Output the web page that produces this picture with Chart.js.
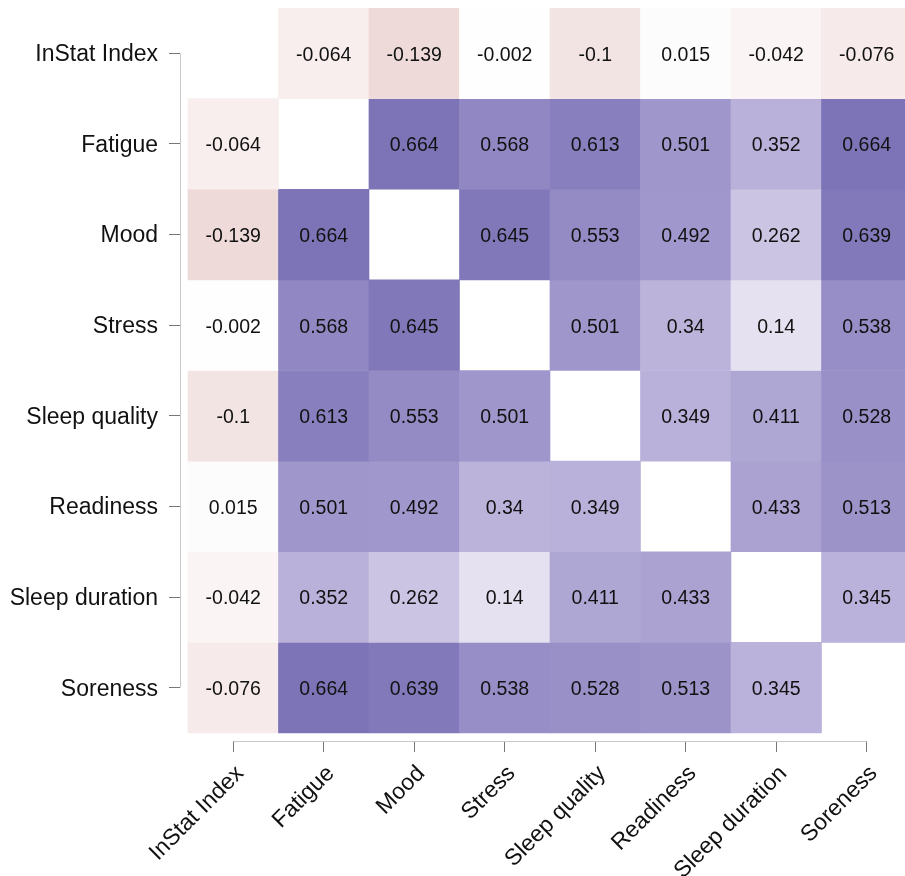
<!DOCTYPE html>
<html>
<head>
<meta charset="utf-8">
<title>Correlation matrix</title>
<script src="https://cdn.jsdelivr.net/npm/chart.js@4.4.1/dist/chart.umd.min.js"></script>
<style>
  html, body { margin: 0; padding: 0; background: #fff; overflow: hidden; }
  canvas { display: block; }
</style>
</head>
<body>
<canvas id="corr" width="920" height="876"></canvas>
<script>
const variables = ["InStat Index", "Fatigue", "Mood", "Stress", "Sleep quality", "Readiness", "Sleep duration", "Soreness"];

// one row per variable, diagonal left empty
const rowInStat    = [null, -0.064, -0.139, -0.002, -0.1, 0.015, -0.042, -0.076];
const rowFatigue   = [-0.064, null, 0.664, 0.568, 0.613, 0.501, 0.352, 0.664];
const rowMood      = [-0.139, 0.664, null, 0.645, 0.553, 0.492, 0.262, 0.639];
const rowStress    = [-0.002, 0.568, 0.645, null, 0.501, 0.34, 0.14, 0.538];
const rowSleepQ    = [-0.1, 0.613, 0.553, 0.501, null, 0.349, 0.411, 0.528];
const rowReadiness = [0.015, 0.501, 0.492, 0.34, 0.349, null, 0.433, 0.513];
const rowSleepDur  = [-0.042, 0.352, 0.262, 0.14, 0.411, 0.433, null, 0.345];
const rowSoreness  = [-0.076, 0.664, 0.639, 0.538, 0.528, 0.513, 0.345, null];

const rows = [rowInStat, rowFatigue, rowMood, rowStress, rowSleepQ, rowReadiness, rowSleepDur, rowSoreness];

// colour ramp: pink for negative, purple for positive
const negStops = [[-0.14, [237, 218, 217]], [-0.07, [247, 236, 236]], [0, [255, 255, 255]]];
const posStops = [[0, [255, 255, 255]], [0.15, [227, 223, 239]], [0.35, [185, 177, 217]], [0.5, [159, 150, 203]], [0.67, [124, 115, 183]]];

function rampColor(v) {
    const stops = v < 0 ? negStops : posStops;
    if (v <= stops[0][0]) return rgb(stops[0][1]);
    for (let i = 1; i < stops.length; i++) {
        if (v <= stops[i][0]) {
            const a = stops[i - 1], b = stops[i];
            const t = (v - a[0]) / (b[0] - a[0]);
            return rgb(a[1].map((c, k) => c + (b[1][k] - c) * t));
        }
    }
    return rgb(stops[stops.length - 1][1]);
}

function rgb(c) {
    return 'rgb(' + c.map(Math.round).join(',') + ')';
}

const font = "'Liberation Sans', Arial, sans-serif";

const datasets = rows.map((row, r) => {
    const cells = [];
    const colors = [];
    row.forEach((v, c) => {
        if (v === null) return;
        cells.push({ x: c, y: [r - 0.5, r + 0.5], v: v });
        colors.push(rampColor(v));
    });
    return {
        label: variables[r],
        data: cells,
        backgroundColor: colors,
        borderWidth: 0,
        grouped: false,
        barPercentage: 1,
        categoryPercentage: 1
    };
});

// write each coefficient in the middle of its cell
const cellLabels = {
    id: 'cellLabels',
    afterDatasetsDraw(chart) {
        const ctx = chart.ctx;
        ctx.save();
        ctx.font = '19.5px ' + font;
        ctx.fillStyle = '#111';
        ctx.textAlign = 'center';
        ctx.textBaseline = 'middle';
        chart.data.datasets.forEach((ds, i) => {
            chart.getDatasetMeta(i).data.forEach((bar, j) => {
                ctx.fillText(String(ds.data[j].v), bar.x, (bar.y + bar.base) / 2 + 2);
            });
        });
        ctx.restore();
    }
};

// axis lines only run between the first and last tick
const axisLines = {
    id: 'axisLines',
    afterDraw(chart) {
        const ctx = chart.ctx;
        const xs = chart.scales.x, ys = chart.scales.y;
        const n = variables.length - 1;
        ctx.save();
        ctx.strokeStyle = '#c8c8c8';
        ctx.lineWidth = 1;
        ctx.beginPath();
        ctx.moveTo(chart.chartArea.left + 0.5, ys.getPixelForValue(0));
        ctx.lineTo(chart.chartArea.left + 0.5, ys.getPixelForValue(n));
        ctx.moveTo(xs.getPixelForValue(0), chart.chartArea.bottom + 0.5);
        ctx.lineTo(xs.getPixelForValue(n), chart.chartArea.bottom + 0.5);
        ctx.stroke();
        ctx.restore();
    }
};

function fixedTicks(scale) {
    scale.ticks = variables.map((_, i) => ({ value: i }));
}

new Chart(document.getElementById('corr'), {
    type: 'bar',
    data: { datasets: datasets },
    options: {
        responsive: false,
        animation: false,
        devicePixelRatio: 1,
        layout: { padding: { top: 8, right: 8, left: 0, bottom: 0 } },
        plugins: {
            legend: { display: false },
            tooltip: { enabled: false }
        },
        scales: {
            x: {
                type: 'linear',
                offset: false,
                min: -0.588,
                max: 7.5,
                afterBuildTicks: fixedTicks,
                afterFit(scale) {
                    scale.height = 135;
                    scale.paddingLeft = 0;
                    scale.paddingRight = 0;
                },
                grid: { offset: false, drawOnChartArea: false, drawTicks: true, tickLength: 11, color: '#777' },
                border: { display: false },
                ticks: {
                    autoSkip: false,
                    minRotation: 45,
                    maxRotation: 45,
                    padding: 11,
                    color: '#111',
                    // transparent backdrop keeps the rotated labels hanging right of the tick
                    showLabelBackdrop: true,
                    backdropColor: 'rgba(255,255,255,0)',
                    backdropPadding: 0,
                    font: { family: font, size: 23, lineHeight: 0.86 },
                    callback: v => variables[v]
                }
            },
            y: {
                type: 'linear',
                reverse: true,
                min: -0.5,
                max: 7.588,
                afterBuildTicks: fixedTicks,
                afterFit(scale) {
                    scale.width = 180;
                    scale.paddingTop = 0;
                    scale.paddingBottom = 0;
                },
                grid: { drawOnChartArea: false, drawTicks: true, tickLength: 11, color: '#777' },
                border: { display: false },
                ticks: {
                    autoSkip: false,
                    padding: 11,
                    labelOffset: 1.5,
                    color: '#111',
                    font: { family: font, size: 23 },
                    callback: v => variables[v]
                }
            }
        }
    },
    plugins: [cellLabels, axisLines]
});
</script>
</body>
</html>
